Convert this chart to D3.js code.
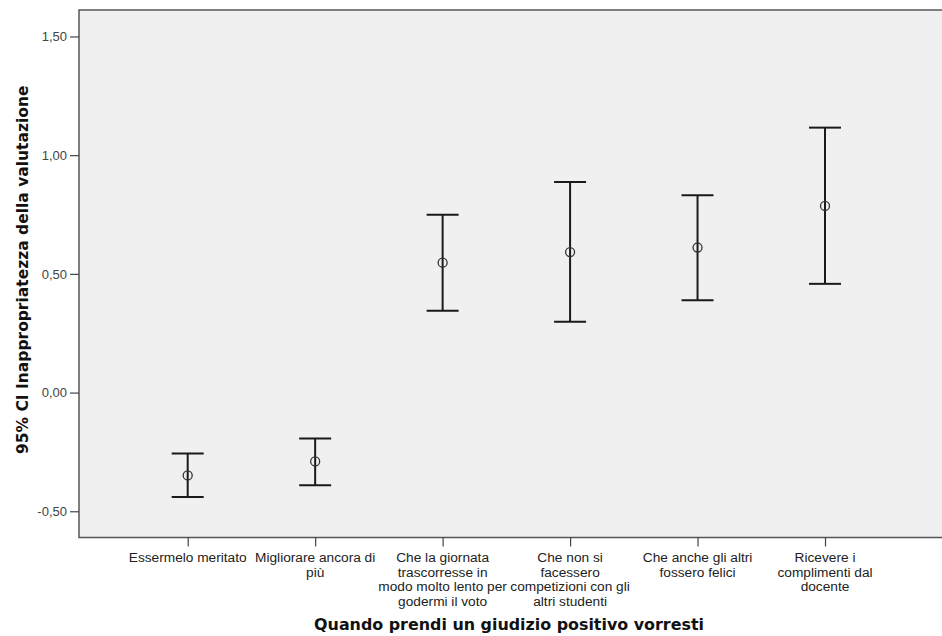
<!DOCTYPE html>
<html><head><meta charset="utf-8">
<script src="https://cdn.jsdelivr.net/npm/d3@7"></script>
<style>
body{margin:0;background:#fff;}
svg text{font-family:"Liberation Sans",Arial,sans-serif;}
</style></head>
<body><svg id="c" width="942" height="636"></svg>
<script>
const categories = [
  ["Essermelo meritato"],
  ["Migliorare ancora di", "più"],
  ["Che la giornata", "trascorresse in", "modo molto lento per", "godermi il voto"],
  ["Che non si", "facessero", "competizioni con gli", "altri studenti"],
  ["Che anche gli altri", "fossero felici"],
  ["Ricevere i", "complimenti dal", "docente"]
];
const means = [-0.349, -0.290, 0.547, 0.592, 0.611, 0.786];
const lower = [-0.440, -0.390, 0.345, 0.298, 0.389, 0.458];
const upper = [-0.257, -0.194, 0.749, 0.887, 0.831, 1.116];
const yTicks = [-0.5, 0, 0.5, 1.0, 1.5];
const yTitle = "95% CI Inappropriatezza della valutazione";
const xTitle = "Quando prendi un giudizio positivo vorresti";

const svg = d3.select("#c");
const L = 79, R = 942, T = 10, B = 537.5;
const keys = categories.map((c, i) => i);
const x = d3.scalePoint().domain(keys).range([187.7, 825]);
const y = d3.scaleLinear().domain([-0.6105, 1.6115]).range([B, T]);

svg.append("rect").attr("x", L).attr("y", T).attr("width", R - L + 2).attr("height", B - T)
  .attr("fill", "#f0f0f0").attr("stroke", "#555").attr("stroke-width", 1.5);

// Y axis
const yAxis = d3.axisLeft(y).tickValues(yTicks).tickSize(9).tickPadding(3)
  .tickFormat(d => d3.format(".2f")(d).replace(".", ",").replace("−", "-"));
const gy = svg.append("g").attr("transform", `translate(${L},0)`).call(yAxis);
gy.select(".domain").remove();
gy.selectAll(".tick line").attr("stroke", "#444").attr("stroke-width", 1.2);
gy.selectAll(".tick text").attr("fill", "#444").style("font-size", "13px");

// X axis
const xAxis = d3.axisBottom(x).tickSize(9).tickFormat("");
const gx = svg.append("g").attr("transform", `translate(0,${B})`).call(xAxis);
gx.select(".domain").remove();
gx.selectAll(".tick line").attr("stroke", "#444").attr("stroke-width", 1.2);

const labels = svg.append("g").selectAll("text").data(categories).join("text")
  .attr("text-anchor", "middle").attr("fill", "#222").style("font-size", "13.7px")
  .attr("transform", (d, i) => `translate(${x(i)},${B + 24.5})`);
labels.selectAll("tspan").data(d => d).join("tspan")
  .attr("x", 0).attr("dy", (d, j) => j === 0 ? 0 : 14.5).text(d => d);

// Error bars
const g = svg.append("g");
const capW = 16;
g.selectAll("line.v").data(keys).join("line").attr("class", "v")
  .attr("x1", i => x(i)).attr("x2", i => x(i))
  .attr("y1", i => y(upper[i])).attr("y2", i => y(lower[i]))
  .attr("stroke", "#1a1a1a").attr("stroke-width", 2);
g.selectAll("line.u").data(keys).join("line").attr("class", "u")
  .attr("x1", i => x(i) - capW).attr("x2", i => x(i) + capW)
  .attr("y1", i => y(upper[i])).attr("y2", i => y(upper[i]))
  .attr("stroke", "#1a1a1a").attr("stroke-width", 2);
g.selectAll("line.l").data(keys).join("line").attr("class", "l")
  .attr("x1", i => x(i) - capW).attr("x2", i => x(i) + capW)
  .attr("y1", i => y(lower[i])).attr("y2", i => y(lower[i]))
  .attr("stroke", "#1a1a1a").attr("stroke-width", 2);
g.selectAll("circle").data(keys).join("circle")
  .attr("cx", i => x(i)).attr("cy", i => y(means[i])).attr("r", 4.5)
  .attr("fill", "none").attr("stroke", "#333").attr("stroke-width", 1.3);

// Titles
svg.append("text").attr("transform", `translate(27.5,${(T + B) / 2 - 4}) rotate(-90)`)
  .attr("text-anchor", "middle").attr("fill", "#111")
  .style("font-family", "'DejaVu Sans', sans-serif").style("font-size", "15.5px").style("font-weight", "bold")
  .text(yTitle);
svg.append("text").attr("x", 509).attr("y", 629.5)
  .attr("text-anchor", "middle").attr("fill", "#111")
  .style("font-family", "'DejaVu Sans', sans-serif").style("font-size", "15.9px").style("font-weight", "bold")
  .text(xTitle);
</script></body></html>
